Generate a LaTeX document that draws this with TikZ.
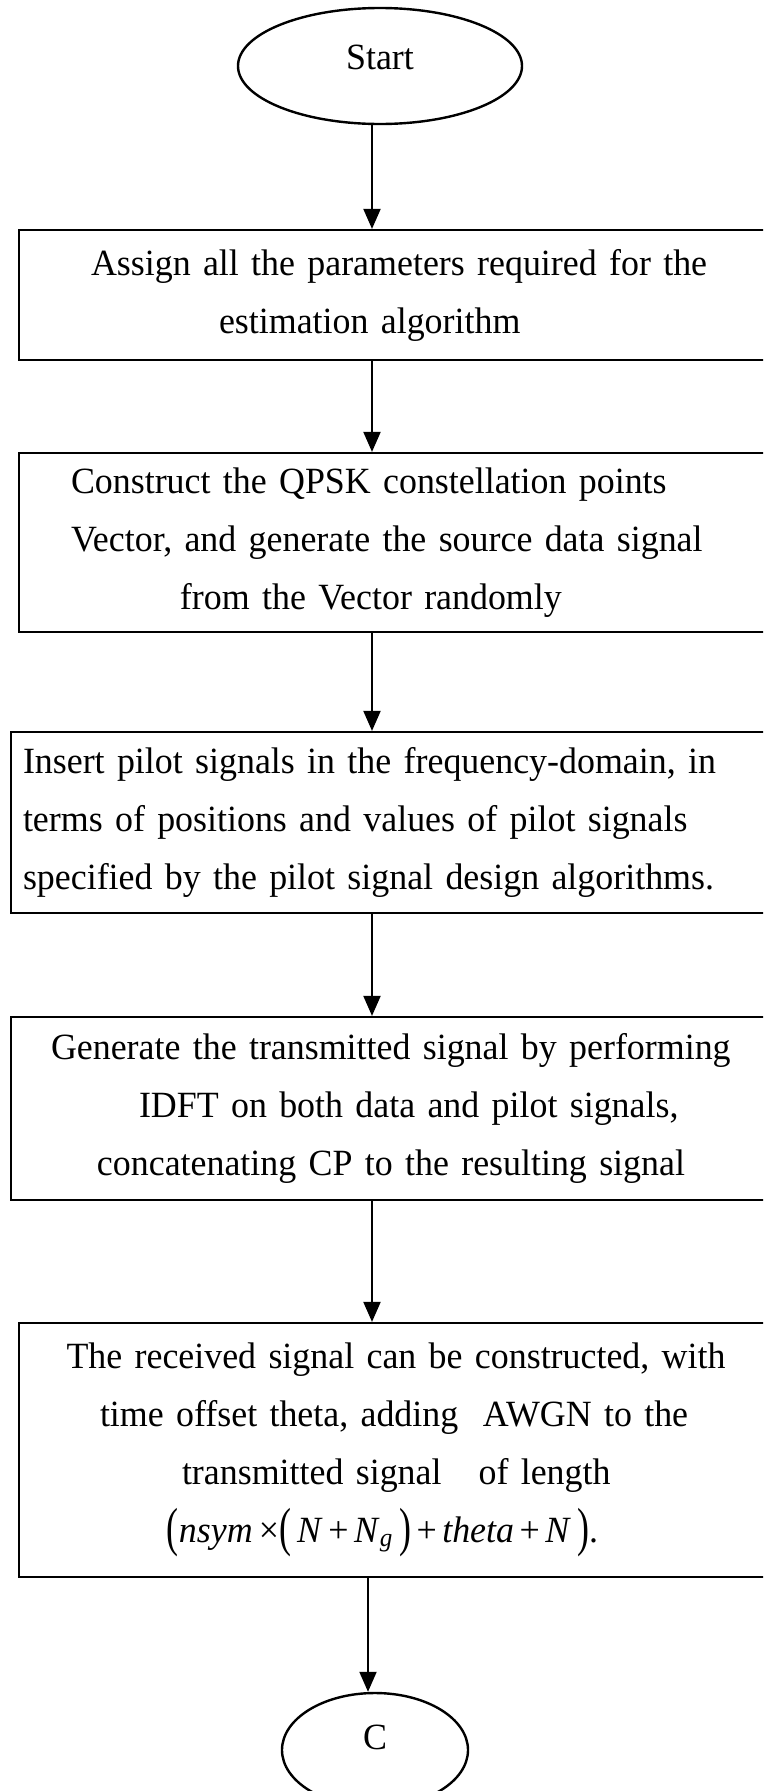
\documentclass[tikz,border=0pt]{standalone}
\usepackage{graphicx}
\usepackage{fontspec}
\setmainfont{Liberation Serif}[FakeStretch=0.97]
\usetikzlibrary{shapes.geometric,arrows.meta}
\newcommand{\tallparen}[1]{\raisebox{-0.1em}{\scalebox{1}[1.45]{#1}}}
\newcommand{\opsp}[1]{\hspace{0.15em}#1\hspace{0.15em}}
\begin{document}
\begin{tikzpicture}[x=1pt,y=-1pt,
  flowbox/.style={draw, line width=2.2pt, rectangle, minimum width=751pt, text width=740pt,
    align=left, inner sep=0pt, font=\fontsize{37}{58}\selectfont},
  term/.style={draw, line width=2.4pt, ellipse, inner sep=0pt, font=\fontsize{37}{44}\selectfont},
  flow/.style={line width=2pt, -{Triangle[length=20pt,width=17pt]}}
]
\useasboundingbox (0,0) rectangle (763,1791);
\clip (0,0) rectangle (763,1791);
\fill[white] (0,0) rectangle (763,1791);

\coordinate (ax) at (372,0);
\coordinate (axc) at (368,0);

\node[term, minimum width=284pt, minimum height=116pt, text depth=18pt] (start) at (380,66) {Start};

\node[flowbox, minimum height=130pt] (b1) at (394.5,295)
  {\hspace*{66.5pt}Assign all the parameters required for the\\
   \hspace*{194.5pt}estimation algorithm};

\node[flowbox, minimum height=179pt] (b2) at (394.5,542.5)
  {\hspace*{46.5pt}Construct the QPSK constellation points\\
   \hspace*{46.5pt}Vector, and generate the source data signal\\
   \hspace*{155.5pt}from the Vector randomly};

\node[flowbox, minimum width=759pt, minimum height=181pt] (b3) at (390.5,822.5)
  {\hspace*{2.5pt}\makebox[725pt][s]{Insert pilot signals in the frequency-domain, in}\\
   \hspace*{2.5pt}\makebox[725pt][s]{terms of positions and values of pilot signals}\\
   \hspace*{2.5pt}specified by the pilot signal design algorithms.};

\node[flowbox, minimum width=759pt, minimum height=183pt] (b4) at (390.5,1108.5)
  {\hspace*{30.5pt}Generate the transmitted signal by performing\\
   \hspace*{118.5pt}IDFT on both data and pilot signals,\\
   \hspace*{76.5pt}concatenating CP to the resulting signal};

\node[flowbox, minimum height=254pt] (b5) at (394.5,1450)
  {\hspace*{42pt}The received signal can be constructed, with\\
   \hspace*{75.5pt}time offset theta, adding\ \ AWGN to the\\
   \hspace*{157.5pt}transmitted signal\ \ \ of length\\
   \hspace*{142.5pt}\tallparen{(}\textit{nsym}\,×\tallparen{(}\,\textit{N}\opsp{+}\textit{N}\textsubscript{\textit{g}}\,\tallparen{)}\opsp{+}\textit{theta}\opsp{+}\textit{N}\,\tallparen{)}.};

\node[term, minimum width=186pt, minimum height=114pt, text depth=26pt] (c) at (375,1750) {C};

\draw[flow] (start.south -| ax) -- (b1.north -| ax);
\draw[flow] (b1.south -| ax) -- (b2.north -| ax);
\draw[flow] (b2.south -| ax) -- (b3.north -| ax);
\draw[flow] (b3.south -| ax) -- (b4.north -| ax);
\draw[flow] (b4.south -| ax) -- (b5.north -| ax);
\draw[flow] (b5.south -| axc) -- (c.north -| axc);
\end{tikzpicture}
\end{document}
